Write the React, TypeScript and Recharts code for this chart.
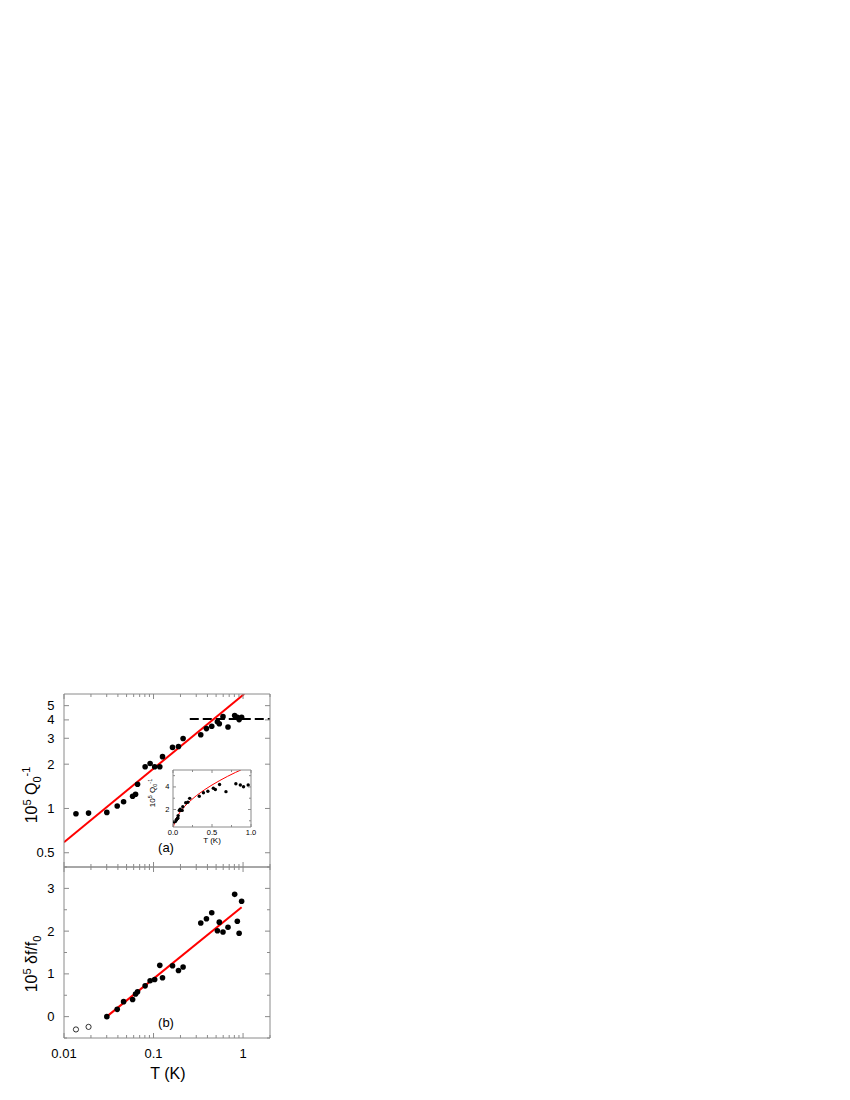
import React from 'react';
import { ComposedChart, Scatter, Line, XAxis, YAxis } from 'recharts';

// temperatures (K), shared by both panels
const T_VALUES = [
  0.0136, 0.0188, 0.0301, 0.0393, 0.0463, 0.0584, 0.063, 0.0663, 0.0806, 0.0916,
  0.103, 0.1175, 0.126, 0.163, 0.19, 0.214, 0.337, 0.39, 0.447, 0.517,
  0.543, 0.597, 0.679, 0.806, 0.863, 0.904, 0.964,
];
// 10^5 Q0^-1
const Q_VALUES = [
  0.92, 0.93, 0.94, 1.04, 1.11, 1.21, 1.25, 1.46, 1.92, 2.02,
  1.92, 1.92, 2.25, 2.6, 2.64, 2.99, 3.17, 3.49, 3.62, 3.88,
  3.77, 4.21, 3.58, 4.28, 4.17, 4.02, 4.17,
];
// 10^5 df/f0 (first two points are open circles)
const DF_OPEN = [-0.3, -0.24];
const DF_VALUES = [
  0.0, 0.17, 0.35, 0.4, 0.53, 0.58, 0.72, 0.84, 0.87, 1.2,
  0.91, 1.19, 1.08, 1.16, 2.19, 2.29, 2.43, 2.01, 2.21, 1.98,
  2.09, 2.86, 2.23, 1.95, 2.7,
];

// fits
const FIT_A_T = [0.01, 1.03];
const FIT_A_Q = [0.59, 6.0];
const PLATEAU_T = [0.254, 2.0];
const PLATEAU_Q = [4.05, 4.05];
const FIT_B_T = [0.03, 0.964];
const FIT_B_DF = [0.0, 2.56];
const INSET_FIT_T = [0.005, 0.01, 0.02, 0.04, 0.07, 0.1, 0.15, 0.2, 0.3, 0.4, 0.5, 0.6, 0.7, 0.8, 0.87];
const INSET_FIT_Q = [0.42, 0.59, 0.83, 1.18, 1.56, 1.87, 2.28, 2.64, 3.23, 3.73, 4.17, 4.57, 4.94, 5.28, 5.5];

// ticks
const X_TICKS = [
  0.01, 0.02, 0.03, 0.04, 0.05, 0.06, 0.07, 0.08, 0.09,
  0.1, 0.2, 0.3, 0.4, 0.5, 0.6, 0.7, 0.8, 0.9, 1, 2,
];
const X_LABELS = [0.01, 0.1, 1];
const QA_TICKS = [0.5, 1, 2, 3, 4, 5];
const DF_TICKS = [-0.5, 0, 0.5, 1, 1.5, 2, 2.5, 3, 3.5];
const DF_LABELS = [0, 1, 2, 3];
const INSET_X_TICKS = [0, 0.25, 0.5, 0.75, 1];
const INSET_X_LABELS = [0, 0.5, 1];
const INSET_Y_TICKS = [1, 2, 3, 4, 5];
const INSET_Y_LABELS = [2, 4];

const AXIS = '#8a8a8a';
const FONT = '"Liberation Sans", Arial, sans-serif';

const pts = (xs: number[], ys: number[]) => xs.map((x, i) => ({ x, y: ys[i] }));

type Side = 'bottom' | 'top' | 'left' | 'right';

const makeTick =
  (side: Side, labels: number[], fmt: (v: number) => string, major: number, minor: number, gap: number, fontSize: number) =>
  (props: any) => {
    const { x, y, payload } = props;
    const v = payload.value as number;
    const isMajor = labels.some((l) => Math.abs(l - v) < 1e-9);
    const len = isMajor ? major : minor;
    let line = null;
    let label = null;
    if (side === 'bottom') {
      line = <line x1={x} y1={y} x2={x} y2={y - len} stroke={AXIS} />;
      if (isMajor && gap > 0)
        label = (
          <text x={x} y={y + gap} textAnchor="middle" dominantBaseline="central" fontSize={fontSize} fill="#000">
            {fmt(v)}
          </text>
        );
    } else if (side === 'top') {
      line = <line x1={x} y1={y} x2={x} y2={y + len} stroke={AXIS} />;
    } else if (side === 'left') {
      line = <line x1={x} y1={y} x2={x + len} y2={y} stroke={AXIS} />;
      if (isMajor)
        label = (
          <text x={x - gap} y={y} textAnchor="end" dominantBaseline="central" fontSize={fontSize} fill="#000">
            {fmt(v)}
          </text>
        );
    } else {
      line = <line x1={x} y1={y} x2={x - len} y2={y} stroke={AXIS} />;
    }
    return (
      <g>
        {line}
        {label}
      </g>
    );
  };

const fmtPlain = (v: number) => String(v);
const fmtOne = (v: number) => v.toFixed(1);

const dot = (r: number) => (p: any) => <circle cx={p.cx} cy={p.cy} r={r} fill="#000" />;
const openDot = (p: any) => <circle cx={p.cx} cy={p.cy} r={2.6} fill="#fff" stroke="#000" strokeWidth={0.8} />;
const none = () => <g />;

const topData = pts(T_VALUES, Q_VALUES);
const bottomData = pts(T_VALUES.slice(2), DF_VALUES);
const openData = pts(T_VALUES.slice(0, 2), DF_OPEN);

const TopPanel = () => (
  <ComposedChart width={280} height={188} margin={{ top: 13, right: 17, bottom: 0, left: 55 }}>
    <XAxis
      xAxisId="b" dataKey="x" type="number" scale="log" domain={[0.01, 2]} allowDataOverflow
      ticks={X_TICKS} interval={0} height={1} tickSize={0} tickMargin={0} tickLine={false}
      axisLine={{ stroke: AXIS }} tick={makeTick('bottom', X_LABELS, fmtPlain, 5, 3, 0, 13)}
    />
    <XAxis
      xAxisId="t" orientation="top" dataKey="x" type="number" scale="log" domain={[0.01, 2]} allowDataOverflow
      ticks={X_TICKS} interval={0} height={1} tickSize={0} tickMargin={0} tickLine={false}
      axisLine={{ stroke: AXIS }} tick={makeTick('top', X_LABELS, fmtPlain, 5, 3, 0, 13)}
    />
    <YAxis
      yAxisId="l" dataKey="y" type="number" scale="log" domain={[0.4, 6]} allowDataOverflow
      ticks={QA_TICKS} interval={0} width={1} tickSize={0} tickMargin={0} tickLine={false}
      axisLine={{ stroke: AXIS }} tick={makeTick('left', QA_TICKS, fmtPlain, 5, 3, 9.5, 13)}
    />
    <YAxis
      yAxisId="r" orientation="right" dataKey="y" type="number" scale="log" domain={[0.4, 6]} allowDataOverflow
      ticks={QA_TICKS} interval={0} width={1} tickSize={0} tickMargin={0} tickLine={false}
      axisLine={{ stroke: AXIS }} tick={makeTick('right', QA_TICKS, fmtPlain, 5, 3, 0, 13)}
    />
    <Scatter xAxisId="t" yAxisId="r" data={topData} shape={none} isAnimationActive={false} />
    <Scatter xAxisId="b" yAxisId="l" data={topData} shape={dot(2.8)} isAnimationActive={false} />
    <Line
      xAxisId="b" yAxisId="l" data={pts(PLATEAU_T, PLATEAU_Q)} dataKey="y" stroke="#000" strokeWidth={2}
      strokeDasharray="9 4" dot={false} activeDot={false} isAnimationActive={false}
    />
    <Line
      xAxisId="b" yAxisId="l" data={pts(FIT_A_T, FIT_A_Q)} dataKey="y" stroke="#ff0000" strokeWidth={2}
      dot={false} activeDot={false} isAnimationActive={false}
    />
  </ComposedChart>
);

const BottomPanel = () => (
  <ComposedChart width={280} height={228} margin={{ top: 6, right: 17, bottom: 49, left: 55 }}>
    <XAxis
      xAxisId="b" dataKey="x" type="number" scale="log" domain={[0.01, 2]} allowDataOverflow
      ticks={X_TICKS} interval={0} height={1} tickSize={0} tickMargin={0} tickLine={false}
      axisLine={{ stroke: AXIS }} tick={makeTick('bottom', X_LABELS, fmtPlain, 5, 3, 15, 13)}
    />
    <XAxis
      xAxisId="t" orientation="top" dataKey="x" type="number" scale="log" domain={[0.01, 2]} allowDataOverflow
      ticks={X_TICKS} interval={0} height={1} tickSize={0} tickMargin={0} tickLine={false}
      axisLine={{ stroke: AXIS }} tick={makeTick('top', X_LABELS, fmtPlain, 5, 3, 0, 13)}
    />
    <YAxis
      yAxisId="l" dataKey="y" type="number" domain={[-0.5, 3.5]} allowDataOverflow
      ticks={DF_TICKS} interval={0} width={1} tickSize={0} tickMargin={0} tickLine={false}
      axisLine={{ stroke: AXIS }} tick={makeTick('left', DF_LABELS, fmtPlain, 5, 3, 9.5, 13)}
    />
    <YAxis
      yAxisId="r" orientation="right" dataKey="y" type="number" domain={[-0.5, 3.5]} allowDataOverflow
      ticks={DF_TICKS} interval={0} width={1} tickSize={0} tickMargin={0} tickLine={false}
      axisLine={{ stroke: AXIS }} tick={makeTick('right', DF_LABELS, fmtPlain, 5, 3, 0, 13)}
    />
    <Scatter xAxisId="t" yAxisId="r" data={bottomData} shape={none} isAnimationActive={false} />
    <Scatter xAxisId="b" yAxisId="l" data={bottomData} shape={dot(2.8)} isAnimationActive={false} />
    <Scatter xAxisId="b" yAxisId="l" data={openData} shape={openDot} isAnimationActive={false} />
    <Line
      xAxisId="b" yAxisId="l" data={pts(FIT_B_T, FIT_B_DF)} dataKey="y" stroke="#ff0000" strokeWidth={2}
      dot={false} activeDot={false} isAnimationActive={false}
    />
  </ComposedChart>
);

const InsetPanel = () => (
  <ComposedChart width={120} height={85} margin={{ top: 9, right: 8, bottom: 17, left: 32 }}>
    <XAxis
      xAxisId="b" dataKey="x" type="number" domain={[0, 1]} allowDataOverflow
      ticks={INSET_X_TICKS} interval={0} height={1} tickSize={0} tickMargin={0} tickLine={false}
      axisLine={{ stroke: AXIS }} tick={makeTick('bottom', INSET_X_LABELS, fmtOne, 3, 2, 5, 7.5)}
    />
    <XAxis
      xAxisId="t" orientation="top" dataKey="x" type="number" domain={[0, 1]} allowDataOverflow
      ticks={INSET_X_TICKS} interval={0} height={1} tickSize={0} tickMargin={0} tickLine={false}
      axisLine={{ stroke: AXIS }} tick={makeTick('top', INSET_X_LABELS, fmtOne, 3, 2, 0, 7.5)}
    />
    <YAxis
      yAxisId="l" dataKey="y" type="number" domain={[0.45, 5.5]} allowDataOverflow
      ticks={INSET_Y_TICKS} interval={0} width={1} tickSize={0} tickMargin={0} tickLine={false}
      axisLine={{ stroke: AXIS }} tick={makeTick('left', INSET_Y_LABELS, fmtPlain, 3, 2, 3.5, 7.5)}
    />
    <YAxis
      yAxisId="r" orientation="right" dataKey="y" type="number" domain={[0.45, 5.5]} allowDataOverflow
      ticks={INSET_Y_TICKS} interval={0} width={1} tickSize={0} tickMargin={0} tickLine={false}
      axisLine={{ stroke: AXIS }} tick={makeTick('right', INSET_Y_LABELS, fmtPlain, 3, 2, 0, 7.5)}
    />
    <Scatter xAxisId="t" yAxisId="r" data={topData} shape={none} isAnimationActive={false} />
    <Scatter xAxisId="b" yAxisId="l" data={topData} shape={dot(1.7)} isAnimationActive={false} />
    <Line
      xAxisId="b" yAxisId="l" data={pts(INSET_FIT_T, INSET_FIT_Q)} dataKey="y" stroke="#ff0000" strokeWidth={1}
      dot={false} activeDot={false} isAnimationActive={false}
    />
  </ComposedChart>
);

// page coordinates minus the 8px body margin
const Titles = () => (
  <svg width={834} height={1084} style={{ position: 'absolute', left: 0, top: 0, pointerEvents: 'none' }} fontFamily={FONT}>
    <text transform="translate(29,787) rotate(-90)" textAnchor="middle" fontSize={16} fill="#000">
      10<tspan fontSize={11} dy={-6}>5</tspan>
      <tspan dy={6}> Q</tspan>
      <tspan fontSize={11} dy={4}>0</tspan>
      <tspan fontSize={11} dy={-11}>-1</tspan>
    </text>
    <text transform="translate(29,956) rotate(-90)" textAnchor="middle" fontSize={16} fill="#000">
      10<tspan fontSize={11} dy={-6}>5</tspan>
      <tspan dy={6}> δf/f</tspan>
      <tspan fontSize={11} dy={4}>0</tspan>
    </text>
    <text x={160} y={1071} textAnchor="middle" fontSize={16} fill="#000">T (K)</text>
    <text x={158} y={844} textAnchor="middle" fontSize={13} fill="#000">(a)</text>
    <text x={158} y={1019} textAnchor="middle" fontSize={13} fill="#000">(b)</text>
    <text x={204} y={835} textAnchor="middle" fontSize={8} fill="#000">T (K)</text>
    <text transform="translate(147,785) rotate(-90)" textAnchor="middle" fontSize={8} fill="#000">
      10<tspan fontSize={5.5} dy={-3}>5</tspan>
      <tspan dy={3}> Q</tspan>
      <tspan fontSize={5.5} dy={2}>0</tspan>
      <tspan fontSize={5.5} dy={-5}>-1</tspan>
    </text>
  </svg>
);

export default function App() {
  return (
    <div style={{ position: 'relative', width: 834, height: 1084, fontFamily: FONT }}>
      <div style={{ position: 'absolute', left: 0, top: 672 }}>
        <TopPanel />
      </div>
      <div style={{ position: 'absolute', left: 0, top: 852 }}>
        <BottomPanel />
      </div>
      <div style={{ position: 'absolute', left: 132, top: 752 }}>
        <InsetPanel />
      </div>
      <Titles />
    </div>
  );
}
